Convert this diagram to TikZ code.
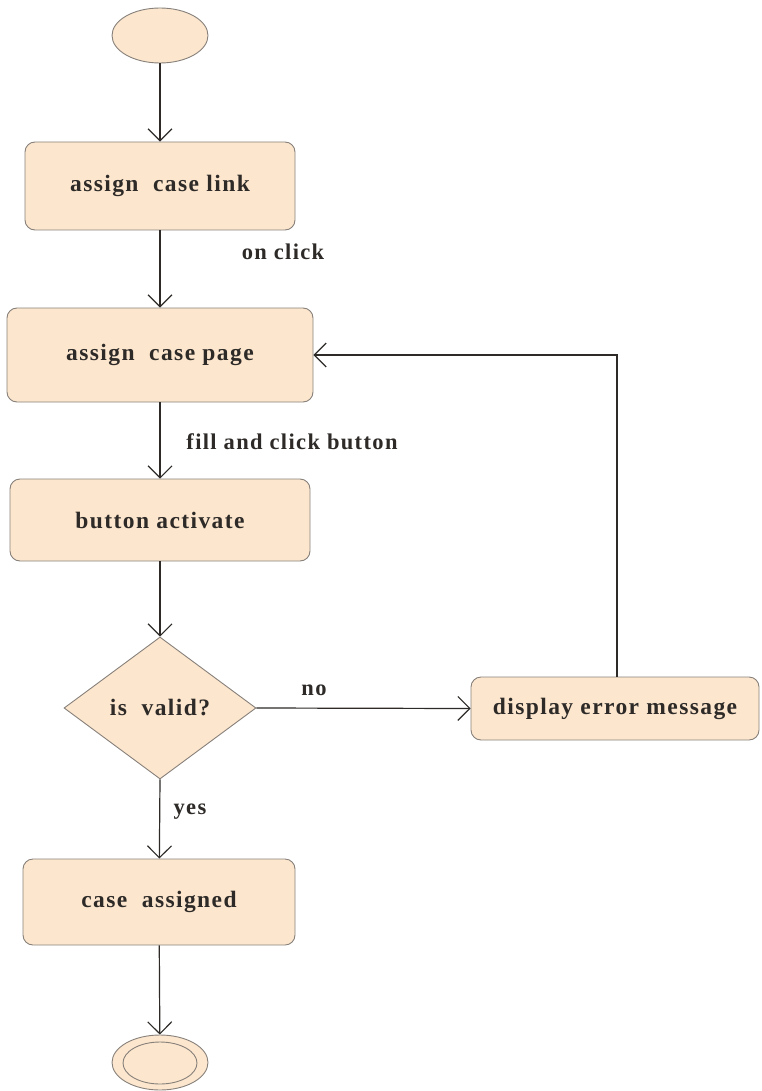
\documentclass[tikz,border=0pt]{standalone}
\usepackage{fontspec}
\setmainfont{Liberation Serif}
\newfontfamily\flowfont[LetterSpace=6]{Liberation Serif}
\usetikzlibrary{arrows.meta,shapes.geometric}
\definecolor{actfill}{RGB}{252,230,206}
\definecolor{actline}{RGB}{135,128,122}
\definecolor{ink}{RGB}{45,42,40}
\tikzset{
  act/.style={draw=actline, fill=actfill, line width=0.9pt, rounded corners=10pt,
    inner sep=0pt, font=\flowfont\bfseries\fontsize{23.5}{26}\selectfont, text=ink},
  decision/.style={diamond, draw=actline, fill=actfill, line width=0.9pt, inner sep=0pt,
    font=\flowfont\bfseries\fontsize{23.5}{26}\selectfont, text=ink},
  terminal/.style={ellipse, draw=actline, fill=actfill, line width=0.9pt, inner sep=0pt,
    minimum width=96pt, minimum height=55pt},
  flow/.style={draw=ink, line width=1.2pt, -{Straight Barb[length=12pt,width=24pt,line width=1.1pt]}},
  guard/.style={font=\flowfont\bfseries\fontsize{22.5}{25}\selectfont, text=ink, inner sep=0pt}
}
\begin{document}
\begin{tikzpicture}[x=1pt,y=-1pt]
  \useasboundingbox (0,0) rectangle (762,1091);

  % initial node
  \node[terminal] (start) at (160,35.5) {};

  % actions
  \node[act, minimum width=270pt, minimum height=88pt] (link) at (160,186) {assign\ \ case link};
  \node[act, minimum width=306pt, minimum height=94pt] (page) at (160,355) {assign\ \ case page};
  \node[act, minimum width=300pt, minimum height=82pt] (btn) at (160,520) {button activate};
  \node[decision, minimum width=192pt, minimum height=142pt] (valid) at (160,708) {is\ \ valid?};
  \node[act, minimum width=288pt, minimum height=63pt] (err) at (615,708.5) {display error message};
  \node[act, minimum width=272pt, minimum height=86pt] (done) at (159,902) {case\ \ assigned};

  % final node
  \node[terminal] (final) at (160,1062.5) {};
  \node[ellipse, draw=actline, line width=0.9pt, minimum width=74pt, minimum height=42pt, inner sep=0pt] (finalin) at (160,1063) {};

  % guard labels
  \node[guard] (lclick) at (283,252) {on click};
  \node[guard] (lfill) at (292,442) {fill and click button};
  \node[guard] (lno) at (314,690) {no};
  \node[guard] (lyes) at (190,812) {yes};

  % control flow
  \draw[flow] (start) -- (link);
  \draw[flow] (link) -- (page);
  \draw[flow] (page) -- (btn);
  \draw[flow] (btn) -- (valid.north);
  \draw[flow] (valid.east) -- (err.west);
  \coordinate (loopup) at (617,355);
  \draw[flow] (err.north -| loopup) -- (loopup) -- (page.east);
  \draw[flow] (valid.south) -- (done);
  \draw[flow] (done) -- (final);
\end{tikzpicture}
\end{document}
